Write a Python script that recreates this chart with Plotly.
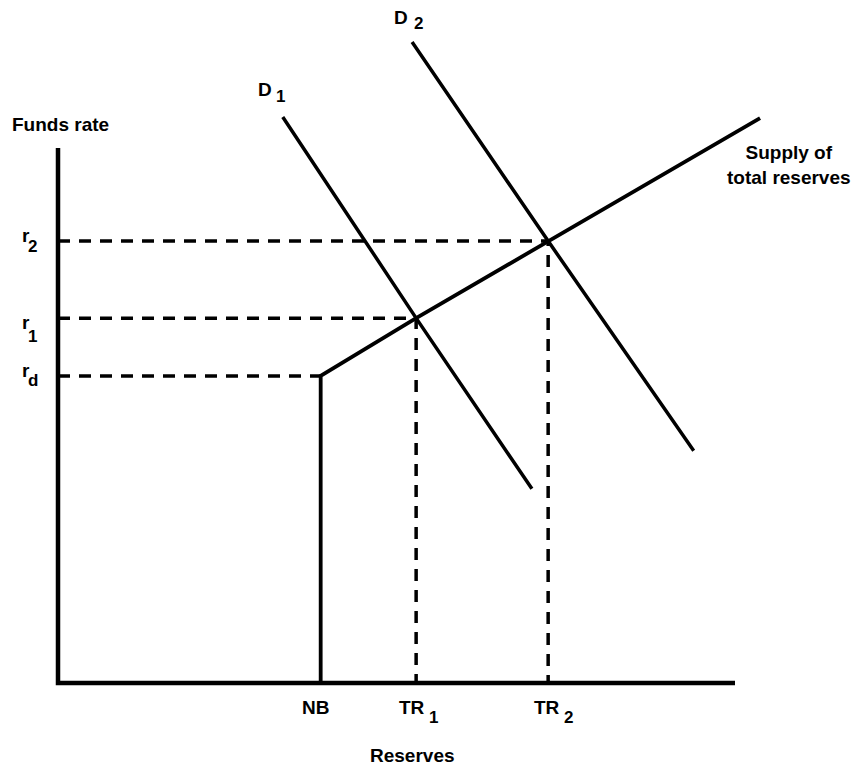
import plotly.graph_objects as go

# reserves (horizontal) and funds-rate (vertical) levels, in chart units
reserve_names = ["NB", "TR", "TR"]
reserve_subs = ["", "1", "2"]
reserve_vals = [38.8, 52.9, 72.4]

rate_names = ["r", "r", "r"]
rate_subs = ["d", "1", "2"]
rate_vals = [57.4, 68.2, 82.6]

# supply of total reserves: vertical at NB up to r_d, then upward sloping
supply_x = [38.8, 38.8, 52.9, 72.4, 103.7]
supply_y = [0, 57.4, 68.2, 82.6, 105.6]

# demand curves
d1_x = [33.2, 52.9, 70.0]
d1_y = [105.8, 68.2, 36.3]
d2_x = [52.3, 72.4, 93.9]
d2_y = [119.8, 82.6, 43.4]

axis_x = [0, 0, 100]
axis_y = [100, 0, 0]

W, H = 853, 768
X0, Y0, SX, SY = 58, 683, 6.77, 5.35   # pixel origin and pixels per unit

FONT = dict(family="Liberation Sans, Arial, sans-serif", size=19, color="black")
SUBFONT = dict(family="Liberation Sans, Arial, sans-serif", size=17, color="black")
DASH = dict(color="black", width=3.5, dash="12px,9px")
SOLID = dict(color="black", width=3.5)


def bold(s):
    return "<b>" + s + "</b>"


def px(x):
    return x / W


def py(y):
    return 1 - y / H


fig = go.Figure()

# dashed guide lines
for i, r in enumerate(rate_vals):
    if i == 0:
        fig.add_trace(go.Scatter(x=[0, reserve_vals[0]], y=[r, r], mode="lines", line=DASH))
    else:
        fig.add_trace(go.Scatter(x=[0, reserve_vals[i], reserve_vals[i]], y=[r, r, 0],
                                 mode="lines", line=DASH))

fig.add_trace(go.Scatter(x=d1_x, y=d1_y, mode="lines", line=SOLID))
fig.add_trace(go.Scatter(x=d2_x, y=d2_y, mode="lines", line=SOLID))
fig.add_trace(go.Scatter(x=supply_x, y=supply_y, mode="lines",
                         line=dict(color="black", width=3.8)))
fig.add_trace(go.Scatter(x=axis_x, y=axis_y, mode="lines",
                         line=dict(color="black", width=4.5)))

ann = []

# funds rate labels on the left
rate_shift = [(5, -5), (-4, -18), (6, -5)]
for name, sub, val, (s1, s2) in zip(rate_names, rate_subs, rate_vals, rate_shift):
    ann.append(dict(xref="paper", yref="y", x=px(31.5), y=val, text=bold(name),
                    xanchor="right", yanchor="middle", yshift=s1, font=FONT))
    ann.append(dict(xref="paper", yref="y", x=px(25.5), y=val, text=bold(sub),
                    xanchor="left", yanchor="middle", yshift=s2, font=SUBFONT))

# reserve labels under the axis
res_shift = [-5, 11, 14]
for name, sub, val, xs in zip(reserve_names, reserve_subs, reserve_vals, res_shift):
    if sub:
        ann.append(dict(xref="x", yref="paper", x=val, y=py(707), text=bold(name),
                        xanchor="right", yanchor="middle", xshift=xs, font=FONT))
        ann.append(dict(xref="x", yref="paper", x=val, y=py(717), text=bold(sub),
                        xanchor="left", yanchor="middle", xshift=xs, font=SUBFONT))
    else:
        ann.append(dict(xref="x", yref="paper", x=val, y=py(707), text=bold(name),
                        xanchor="center", yanchor="middle", xshift=xs, font=FONT))

# curve labels
ann += [
    dict(x=px(265), y=py(89.5), text=bold("D"), font=FONT),
    dict(x=px(280), y=py(96), text=bold("1"), font=SUBFONT),
    dict(x=px(401), y=py(17.5), text=bold("D"), font=FONT),
    dict(x=px(418.5), y=py(23.5), text=bold("2"), font=SUBFONT),
    dict(x=px(789), y=py(164.5), text=bold("Supply of<br>total reserves"), font=FONT),
    dict(x=px(60), y=py(125), text=bold("Funds rate"), font=FONT),
    dict(x=px(412), y=py(755), text=bold("Reserves"), font=FONT),
]
for a in ann[-7:]:
    a.update(xref="paper", yref="paper", xanchor="center", yanchor="middle")

for a in ann:
    a["showarrow"] = False

fig.update_layout(
    width=W,
    height=H,
    margin=dict(l=0, r=0, t=0, b=0),
    paper_bgcolor="white",
    plot_bgcolor="white",
    showlegend=False,
    annotations=ann,
    xaxis=dict(range=[-X0 / SX, (W - X0) / SX], visible=False, fixedrange=True),
    yaxis=dict(range=[(Y0 - H) / SY, Y0 / SY], visible=False, fixedrange=True),
)

# the page body has a default 8px margin; drop it so the figure fills the window
fig.write_html("out.html", config={"displayModeBar": False},
               post_script="document.body.style.margin='0px';")
